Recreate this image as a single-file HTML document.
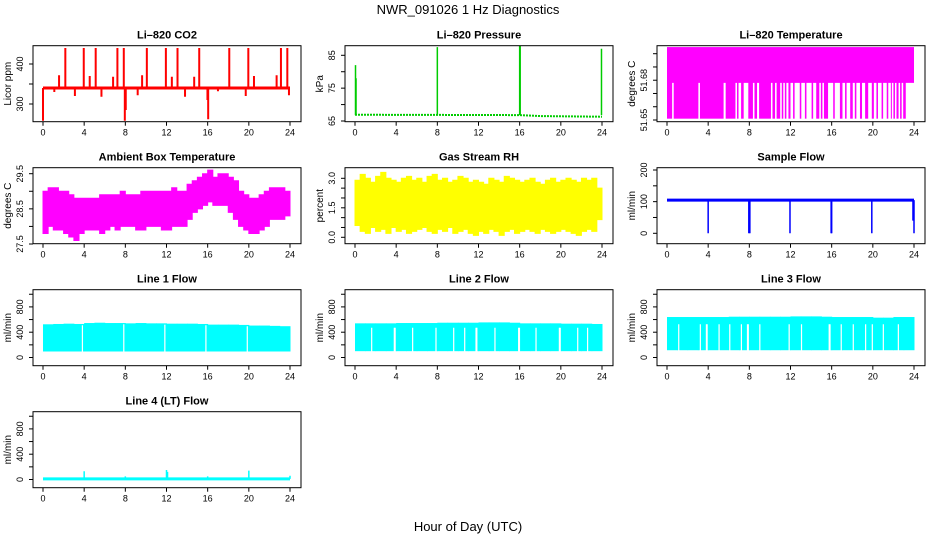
<!DOCTYPE html>
<html><head><meta charset="utf-8"><style>
html,body{margin:0;padding:0;background:#fff;}
svg{display:block;font-family:"Liberation Sans",Arial,sans-serif;}
</style></head><body>
<svg id="chart" width="936" height="540" viewBox="0 0 936 540" xmlns="http://www.w3.org/2000/svg">
<text x="468" y="14" text-anchor="middle" font-size="13">NWR_091026  1 Hz Diagnostics</text>
<text x="468" y="531" text-anchor="middle" font-size="13">Hour of Day (UTC)</text>
</svg>
<script>
// ---- data ----
const xTicks = [0,4,8,12,16,20,24];
const co2Base = 340;
const co2SpikeHours = [2.17,3.96,5.12,7.23,7.85,10.09,11.94,13.07,15.18,18.1,19.95,23.12,23.74,1.56,4.54,6.81,9.63,12.52,14.69,20.5,22.7,0.0,7.95,16.05,8.04,15.98,5.68,3.1,9.2,13.8,19.7,23.9,1.1,17.0];
const co2SpikeValues = [440,440,440,440,440,440,440,440,440,440,440,440,440,372,370,368,372,368,368,370,372,258,258,262,285,310,318,320,322,318,320,322,330,332];
const presHours = [0,16,18,24];
const presBase = [66.9,66.8,66.5,66.3];
const presSpikeHours = [0.05,0.1,8.0,16.0,16.05,23.95];
const presSpikeValues = [82,78,87.5,88,88,87];
const tempHigh = 51.705, tempMid = 51.678, tempLow = 51.651;
const tempLowSegs = [[0,0.5],[0.65,3.05],[3.2,5.5],[5.7,6.65],[6.8,6.95],[7.2,7.45],[7.9,8.35],[8.5,8.75],[8.95,10.1],[10.25,10.5],[10.65,11.0],[11.15,11.3],[11.45,11.6],[11.8,12.0],[12.25,12.4],[12.9,13.05],[13.4,13.55],[14.05,14.2],[14.5,14.8],[14.95,15.1],[15.25,15.65],[16.15,16.3],[16.8,17.05],[17.3,17.45],[17.8,18.05],[18.25,18.4],[18.75,18.95],[19.25,19.55],[19.9,20.1],[20.35,20.5],[20.85,21.0],[21.35,21.5],[21.75,21.85],[22.0,22.15],[22.3,22.5],[22.65,22.8],[22.95,23.2]];
const ambUpper = [29.0,29.1,29.1,29.0,29.0,28.9,28.8,28.8,28.8,28.8,28.8,28.9,28.9,28.9,28.9,29.0,28.9,28.9,28.9,29.0,29.0,29.0,29.0,29.0,29.0,29.1,29.0,29.0,29.2,29.3,29.4,29.5,29.6,29.4,29.5,29.5,29.4,29.3,29.0,28.9,28.8,28.8,28.9,29.0,29.1,29.1,29.1,29.0];
const ambLower = [27.8,28.0,27.9,27.9,27.8,27.7,27.6,27.8,27.9,27.9,27.9,27.8,27.9,28.0,27.9,28.0,28.0,28.0,27.9,27.9,28.0,28.0,28.0,27.9,27.9,28.0,28.0,28.0,28.2,28.4,28.5,28.6,28.7,28.6,28.6,28.6,28.4,28.2,28.0,27.9,27.8,27.8,27.9,28.0,28.2,28.2,28.2,28.3];
const rhUpper = [2.9,3.2,3.0,2.8,3.1,3.3,3.0,2.9,2.8,3.0,3.1,2.9,3.0,2.8,3.1,3.2,2.9,3.0,2.8,2.9,3.1,3.0,2.8,2.9,2.8,2.7,3.0,2.9,2.8,3.1,3.0,2.9,2.8,2.9,3.0,2.8,2.7,2.9,3.0,2.8,2.9,3.0,2.9,2.8,3.0,2.9,3.0,2.5];
const rhLower = [0.6,0.3,0.2,0.5,0.3,0.4,0.2,0.5,0.3,0.4,0.2,0.3,0.4,0.5,0.3,0.2,0.4,0.3,0.5,0.2,0.3,0.4,0.2,0.1,0.3,0.2,0.4,0.3,0.1,0.3,0.4,0.2,0.3,0.4,0.3,0.2,0.4,0.3,0.2,0.3,0.4,0.3,0.2,0.1,0.3,0.4,0.3,0.9];
const sampleBase = 105;
const sampleDipHours = [4.0,7.95,8.05,11.95,15.95,16.0,19.9,23.9,24.0];
const sampleDipValues = [0,0,0,0,0,0,0,40,0];
const line1Tops = [525,530,535,530,545,550,545,545,540,545,540,540,535,535,535,530,520,520,520,515,505,505,500,495];
const line1Low = 95;
const line1Gaps = [3.83,7.85,11.84,15.83,19.85];
const line2Tops = [540,540,540,540,545,545,545,545,550,550,550,550,555,555,555,550,540,540,540,540,535,535,535,530];
const line2Low = 100;
const line2GapTop = 470;
const line2Gaps = [1.62,3.82,3.9,5.6,7.87,9.59,10.66,11.76,11.84,13.6,15.9,15.98,17.59,19.86,19.94,21.64,22.6];
const line3Tops = [640,640,640,640,640,640,645,645,645,645,645,645,650,650,650,645,640,640,640,640,630,630,640,640];
const line3Low = 115;
const line3GapTop = 525;
const line3Gaps = [1.14,3.24,3.83,3.9,5.06,6.1,7.23,7.82,7.9,9.02,11.87,13.07,15.76,15.84,16.93,18.1,19.3,19.95,21.02,22.48];
const line4Base = 10;
const line4SpikeHours = [4,8,12,12.1,16,20,24];
const line4SpikeValues = [130,50,150,120,50,140,60];

// ---- layout ----
const NS = "http://www.w3.org/2000/svg";
const svg = document.getElementById('chart');
const rowTops = [45.7,167.7,289.7,411.7];
const BOX_H = 76;
function mk(tag, attrs, parent){
  const e = document.createElementNS(NS, tag);
  for (const k in attrs) e.setAttribute(k, attrs[k]);
  (parent||svg).appendChild(e);
  return e;
}
let clipId = 0;
function panel(cfg){
  const colX = cfg.col*312, top = rowTops[cfg.row];
  const bl = colX+33, br = colX+301, bt = top, bb = top+BOX_H;
  const xs = h => colX+43 + h*247/24;
  const ys = v => cfg.y0 + (v-cfg.v0)*(cfg.y1-cfg.y0)/(cfg.v1-cfg.v0) + top;
  const g = mk('g', {});
  
  
  const id = 'clip'+(clipId++);
  const cp = mk('clipPath', {id:id}, g);
  mk('rect', {x:bl, y:bt, width:br-bl, height:bb-bt}, cp);
  const plot = mk('g', {'clip-path':'url(#'+id+')'}, g);
  
  
  cfg.draw(plot, xs, ys);
  const box = mk('rect', {x:bl, y:bt, width:br-bl, height:bb-bt, fill:'none', stroke:'#000', 'stroke-width':1}, g);
  
  
  const t = mk('text', {x:(bl+br)/2, y:top-7, 'text-anchor':'middle', 'font-size':11, 'font-weight':'bold'}, g);
  t.textContent = cfg.title;
  
  
  // x axis
  for (const h of xTicks){
    mk('line', {x1:xs(h), x2:xs(h), y1:bb, y2:bb+4, stroke:'#000'}, g);
    const lt = mk('text', {x:xs(h), y:bb+14, 'text-anchor':'middle', 'font-size':9}, g);
    lt.textContent = h;
    
    
  }
  // y axis
  for (const v of cfg.ticks){
    const y = ys(v);
    mk('line', {x1:bl-4, x2:bl, y1:y, y2:y, stroke:'#000'}, g);
  }
  cfg.labels.forEach(v => {
    const y = ys(v);
    const lt = mk('text', {x:bl-10, y:y, 'text-anchor':'middle', 'font-size':9, transform:'rotate(-90 '+(bl-10)+' '+y+')'}, g);
    lt.textContent = cfg.fmt ? cfg.fmt(v) : v;
    
    
  });
  const my = (bt+bb)/2;
  const yt = mk('text', {x:bl-22, y:my, 'text-anchor':'middle', 'font-size':10, transform:'rotate(-90 '+(bl-22)+' '+my+')'}, g);
  yt.textContent = cfg.ytitle;
  
  
}
function vline(p, x, y1, y2, col, w){ return mk('line', {x1:x, x2:x, y1:y1, y2:y2, stroke:col, 'stroke-width':w||1}, p); }

// CO2
panel({name:'co2-panel', row:0, col:0, title:'Li\u2013820 CO2', ytitle:'Licor ppm', v0:300, y0:58.3, v1:400, y1:18.3, ticks:[300,350,400], labels:[300,400],
 draw:(p,xs,ys)=>{
  co2SpikeHours.forEach((h,i)=>{ const l = vline(p, xs(h), ys(co2Base), ys(co2SpikeValues[i]), '#ff0000', 2);
     });
  const b = mk('line', {x1:xs(0), x2:xs(24), y1:ys(co2Base), y2:ys(co2Base), stroke:'#ff0000', 'stroke-width':3}, p);
  
 }});
// Pressure
panel({name:'pressure-panel', row:0, col:1, title:'Li\u2013820 Pressure', ytitle:'kPa', v0:65, y0:75.3, v1:85, y1:9.6, ticks:[65,70,75,80,85], labels:[65,75,85],
 draw:(p,xs,ys)=>{
  const pts = presHours.map((h,i)=>xs(h)+','+ys(presBase[i])).join(' ');
  const pl = mk('polyline', {points:pts, fill:'none', stroke:'#00cc00', 'stroke-width':2, 'stroke-dasharray':'2 1'}, p);
  
  presSpikeHours.forEach((h,i)=>{ const l = vline(p, xs(h), ys(66.8), ys(presSpikeValues[i]), '#00cc00', 1.5);
     });
 }});
// Temperature
panel({name:'licor-temp-panel', row:0, col:2, title:'Li\u2013820 Temperature', ytitle:'degrees C', v0:51.65, y0:74.3, v1:51.70, y1:8.0, ticks:[51.65,51.66,51.67,51.68,51.69,51.70], labels:[51.65,51.68], fmt:v=>v.toFixed(2),
 draw:(p,xs,ys)=>{
  const r = mk('rect', {x:xs(0), y:ys(tempHigh), width:xs(24)-xs(0), height:ys(tempMid)-ys(tempHigh), fill:'#ff00ff'}, p);
  
  tempLowSegs.forEach(s=>{ const rr = mk('rect', {x:xs(s[0]), y:ys(tempMid)-1, width:Math.max(1,xs(s[1])-xs(s[0])), height:ys(tempLow)-ys(tempMid)+1, fill:'#ff00ff'}, p);
     });
 }});
// Ambient
function bandPoly(p, xs, ys, up, lo, col){
  const n = up.length, w = 24/n; let pts = [];
  for (let i=0;i<n;i++){ pts.push(xs(i*w)+','+ys(up[i])); pts.push(xs((i+1)*w)+','+ys(up[i])); }
  for (let i=n-1;i>=0;i--){ pts.push(xs((i+1)*w)+','+ys(lo[i])); pts.push(xs(i*w)+','+ys(lo[i])); }
  return mk('polygon', {points:pts.join(' '), fill:col, stroke:col, 'stroke-width':1}, p);
}
panel({name:'ambient-temp-panel', row:1, col:0, title:'Ambient Box Temperature', ytitle:'degrees C', v0:27.5, y0:76.3, v1:29.5, y1:6.0, ticks:[27.5,28,28.5,29,29.5], labels:[27.5,28.5,29.5],
 draw:(p,xs,ys)=>{ const b = bandPoly(p,xs,ys,ambUpper,ambLower,'#ff00ff');  }});
// RH
panel({name:'rh-panel', row:1, col:1, title:'Gas Stream RH', ytitle:'percent', v0:0, y0:69.6, v1:3, y1:10.6, ticks:[0,0.5,1,1.5,2,2.5,3], labels:[0,1.5,3], fmt:v=>v.toFixed(1),
 draw:(p,xs,ys)=>{ const b = bandPoly(p,xs,ys,rhUpper,rhLower,'#ffff00');  }});
// Sample flow
panel({name:'sample-flow-panel', row:1, col:2, title:'Sample Flow', ytitle:'ml/min', v0:0, y0:65.6, v1:200, y1:2.3, ticks:[0,50,100,150,200], labels:[0,100,200],
 draw:(p,xs,ys)=>{
  const b = mk('line', {x1:xs(0), x2:xs(24), y1:ys(sampleBase), y2:ys(sampleBase), stroke:'#0000ff', 'stroke-width':3}, p);
  
  sampleDipHours.forEach((h,i)=>{ const l = vline(p, xs(h), ys(sampleBase), ys(sampleDipValues[i]), '#0000ff', 1.5);
     });
 }});
// Line flows
function flowPanel(name,row,col,title,tops,low,gaps,gapTop){
  panel({name:name, row:row, col:col, title:title, ytitle:'ml/min', v0:0, y0:67.8, v1:800, y1:17.2, ticks:[0,200,400,600,800,1000], labels:[0,400,800],
   draw:(p,xs,ys)=>{
    tops.forEach((t,i)=>{ const r = mk('rect', {x:xs(i), y:ys(t), width:xs(i+1)-xs(i)+0.5, height:ys(low)-ys(t), fill:'#00ffff'}, p);
       });
    gaps.forEach(h=>{ const l = vline(p, xs(h), ys(low)+1, ys(gapTop===undefined? tops[Math.min(23,Math.floor(h))]-20 : gapTop), '#ffffff', 1.2);
       });
   }});
}
flowPanel('line1-flow-panel',2,0,'Line 1 Flow',line1Tops,line1Low,line1Gaps);
flowPanel('line2-flow-panel',2,1,'Line 2 Flow',line2Tops,line2Low,line2Gaps,line2GapTop);
flowPanel('line3-flow-panel',2,2,'Line 3 Flow',line3Tops,line3Low,line3Gaps,line3GapTop);
panel({name:'line4-flow-panel', row:3, col:0, title:'Line 4 (LT) Flow', ytitle:'ml/min', v0:0, y0:67.8, v1:800, y1:17.2, ticks:[0,200,400,600,800,1000], labels:[0,400,800],
 draw:(p,xs,ys)=>{
  const b = mk('line', {x1:xs(0), x2:xs(24), y1:ys(line4Base), y2:ys(line4Base), stroke:'#00ffff', 'stroke-width':3}, p);
  
  line4SpikeHours.forEach((h,i)=>{ const l = vline(p, xs(h), ys(line4Base), ys(line4SpikeValues[i]), '#00ffff', 1.5);
     });
 }});
</script>
</body></html>
